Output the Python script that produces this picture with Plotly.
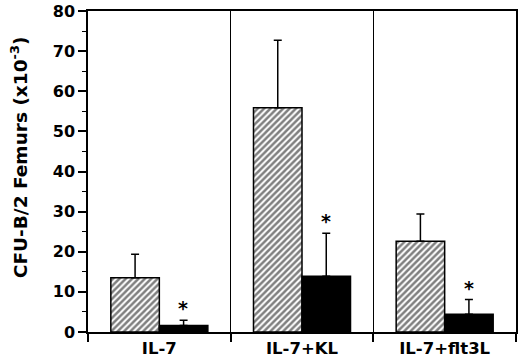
import plotly.graph_objects as go

categories = ["IL-7", "IL-7+KL", "IL-7+flt3L"]
hatched_vals = [13.5, 55.9, 22.6]
hatched_err = [5.9, 16.8, 6.8]
black_vals = [1.6, 13.9, 4.4]
black_err = [1.3, 10.7, 3.7]
y_ticks = [0, 10, 20, 30, 40, 50, 60, 70, 80]
y_title = "CFU-B/2 Femurs (x10<sup>-3</sup>)"

FONT = "DejaVu Sans"

fig = go.Figure()
fig.add_trace(go.Bar(
    x=categories, y=hatched_vals,
    marker=dict(color="white", line=dict(color="black", width=1.5),
                pattern=dict(shape="/", fgcolor="black", bgcolor="white", size=4.5, solidity=0.55)),
    error_y=dict(type="data", array=hatched_err, arrayminus=[0]*3, symmetric=False,
                 color="black", thickness=1.5, width=4),
))
fig.add_trace(go.Bar(
    x=categories, y=black_vals,
    marker=dict(color="black", line=dict(color="black", width=1.5)),
    error_y=dict(type="data", array=black_err, arrayminus=[0]*3, symmetric=False,
                 color="black", thickness=1.5, width=4),
))

for c, v, e in zip(categories, black_vals, black_err):
    fig.add_annotation(x=c, y=v + e, xref="x", yref="y", text="*", showarrow=False,
                       xshift=24, yanchor="bottom", yshift=-1,
                       font=dict(family=FONT, size=19, color="black", weight="bold"))

# y-axis title (placed as annotation: it sits above the plot's vertical centre)
fig.add_annotation(text=y_title, xref="paper", yref="paper", x=-0.161, y=0.545,
                   xanchor="center", yanchor="middle", textangle=-90, showarrow=False,
                   font=dict(family=FONT, size=18.5, color="black", weight="bold"))

fig.update_layout(
    width=520, height=362,
    margin=dict(l=88, r=4, t=11, b=30),
    barmode="group", bargap=0.32, bargroupgap=0,
    showlegend=False,
    plot_bgcolor="white", paper_bgcolor="white",
    font=dict(family=FONT, color="black"),
)
fig.update_xaxes(
    type="category", tickson="boundaries", ticks="outside", ticklen=8, tickwidth=1.5,
    tickcolor="black", showline=True, linecolor="black", linewidth=1.5, mirror=True,
    showgrid=True, gridcolor="black", gridwidth=1.2, automargin=False,
    tickfont=dict(family=FONT, size=16.5, color="black", weight="bold"),
)
fig.update_yaxes(
    range=[0, 80], tickvals=y_ticks, ticks="outside", ticklen=8, tickwidth=1.5,
    tickcolor="black", showline=True, linecolor="black", linewidth=1.5, mirror=True,
    showgrid=False, zeroline=False, automargin=False,
    minor=dict(dtick=5, ticks="outside", ticklen=4, tickwidth=1.2, tickcolor="black"),
    tickfont=dict(family=FONT, size=16, color="black", weight="bold"),
)

fig.write_html("out.html", config={"displayModeBar": False},
               post_script="document.body.style.margin='0px';")
